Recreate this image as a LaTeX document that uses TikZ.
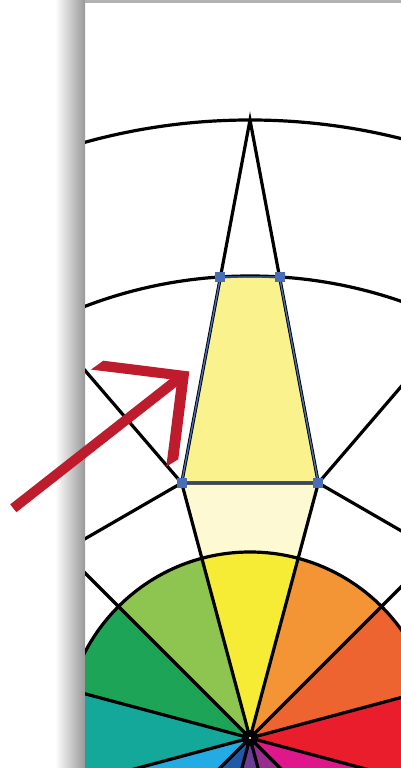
\documentclass[tikz,border=0pt]{standalone}
\usetikzlibrary{calc}
\definecolor{hueyellow}{HTML}{F7EC35}
\definecolor{hueyelgreen}{HTML}{8DC550}
\definecolor{huegreen}{HTML}{1EA456}
\definecolor{hueteal}{HTML}{14A89A}
\definecolor{huesky}{HTML}{22ACE3}
\definecolor{hueblue}{HTML}{1F5BA8}
\definecolor{huepurple}{HTML}{6C3A97}
\definecolor{hueviolet}{HTML}{982C8F}
\definecolor{huemagenta}{HTML}{E0178A}
\definecolor{huered}{HTML}{E91D2B}
\definecolor{hueredorange}{HTML}{EE6431}
\definecolor{hueorange}{HTML}{F39534}
\definecolor{trapfill}{HTML}{F9F28D}
\definecolor{palefill}{HTML}{FDF9D2}
\definecolor{selblue}{HTML}{4A6EB5}
\definecolor{arrowred}{HTML}{BE1C2D}
\begin{document}
\begin{tikzpicture}[x=1pt,y=1pt,line width=3.2pt,
 selectline/.style={draw=selblue,line width=1.4pt},
 pointer/.style={arrowred,line width=10pt}]
 \useasboundingbox (0,0) rectangle (401,768);
 \shade[left color=white,right color=gray!80] (55,0) rectangle (85,768);
 \fill[gray!60] (85,765) rectangle (401,768);
 \begin{scope}
  \clip (85,0) rectangle (401,765);
  \begin{scope}[shift={(250,30)}]
   \coordinate (hub) at (0,0);
   \foreach \ang/\hue in {90/hueyellow,120/hueyelgreen,150/huegreen,180/hueteal,
     210/huesky,240/hueblue,270/huepurple,300/hueviolet,330/huemagenta,
     360/huered,30/hueredorange,60/hueorange}{
    \fill[\hue] (hub) -- ({\ang-15}:186)
     arc[start angle=\ang-15,end angle=\ang+15,radius=186] -- cycle;
   }
   \coordinate (bl) at (105:264);
   \coordinate (br) at (75:264);
   \coordinate (tl) at ($(90:618)!0.4324!(bl)$);
   \coordinate (tr) at ($(90:618)!0.4324!(br)$);
   \fill[palefill] (br) -- (bl) -- (105:186)
    arc[start angle=105,end angle=75,radius=186] -- cycle;
   \fill[trapfill] (tl) -- (tr) -- (br) -- (bl) -- cycle;
   \draw (90:618) \foreach \k in {1,...,11}{
     -- ({75+30*\k}:264) -- ({90+30*\k}:618)} -- (75:264) -- cycle;
   \draw (15:264) \foreach \k in {1,...,11}{ -- ({15+30*\k}:264)} -- cycle;
   \foreach \k in {0,...,11}
    \draw (hub) -- ({15+30*\k}:264);
   \foreach \rad in {186,462,618}
    \draw (hub) circle[radius=\rad];
   \fill (hub) circle[radius=8];
   \fill[white] (hub) circle[radius=1.2];
   \draw[selectline] (tl) -- (tr) -- (br) -- (bl) -- cycle;
   \foreach \corner in {tl,tr,bl,br}
    \fill[selblue] ($(\corner)+(-5,-5)$) rectangle ++(10,10);
  \end{scope}
 \end{scope}
 \coordinate (tail) at (13.3,259.7);
 \coordinate (neck) at (182,392);
 \coordinate (tip) at (189.3,396.5);
 \fill[arrowred] (tip) -- (103.3,407.3) -- (91,398.4) -- (177.2,387.9)
  -- (166.3,301.3) -- (178.3,308.7) -- cycle;
 \draw[pointer] (tail) -- (neck);
\end{tikzpicture}
\end{document}
